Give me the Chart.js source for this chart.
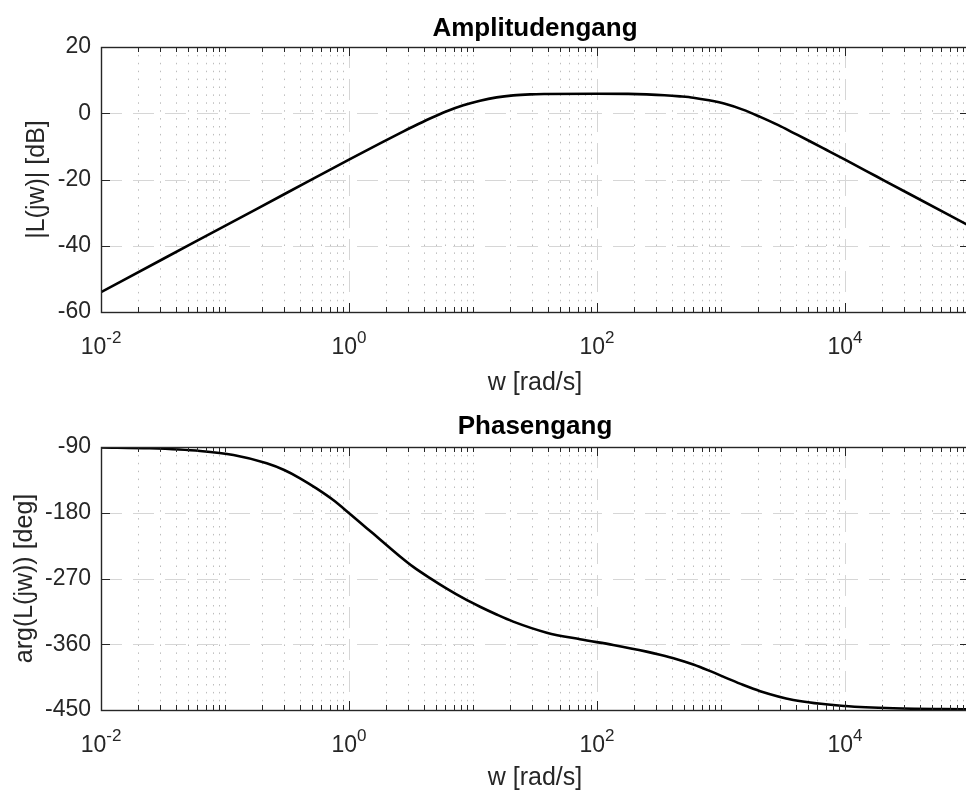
<!DOCTYPE html>
<html><head><meta charset="utf-8">
<script src="https://cdn.jsdelivr.net/npm/chart.js@4.4.1/dist/chart.umd.min.js"></script>
<style>
html,body{margin:0;padding:0;background:#fff;overflow:hidden;width:966px;height:796px;position:relative;}
canvas{position:absolute;left:0;}
#c1{top:0}
#c2{top:400px}
</style></head><body>
<canvas id="c1" width="972" height="400"></canvas>
<canvas id="c2" width="972" height="396"></canvas>
<script>
// ---- data ----
const magFreq = [0.01, 0.0316, 0.1, 0.316, 1, 1.78, 2.58, 3.3, 4.5, 6.14, 8.36, 11.4, 15.5, 21.1, 28.9, 39.3, 100, 178, 251, 350, 467, 598, 800, 1110, 1500, 2070, 2900, 3830, 5300, 7110, 10100, 18000, 33400, 100000];
const magDb   = [-54, -44, -34, -24, -14, -9.1, -6.0, -4.0, -1.6, 0.6, 2.4, 3.8, 4.8, 5.4, 5.7, 5.8, 5.9, 5.85, 5.7, 5.45, 5.1, 4.7, 3.9, 2.7, 1.1, -1.1, -3.6, -5.9, -8.6, -11.1, -14.1, -19.1, -24.45, -33.95];
const phaseFreq = [0.01, 0.0248, 0.063, 0.117, 0.217, 0.3, 0.403, 0.55, 0.746, 1.02, 1.39, 1.78, 2.58, 3.3, 4.5, 6.14, 8.36, 11.4, 15.5, 21.1, 39.3, 72.9, 135, 251, 322, 440, 598, 800, 1110, 1500, 2070, 3830, 10100, 24500, 100000];
const phaseDeg  = [-90.5, -91.8, -95.5, -101, -112.3, -121.5, -132.8, -147.0, -162.6, -181.7, -201.1, -216.5, -239.8, -254.1, -269.5, -283.9, -297.0, -308.7, -319.3, -329.0, -344.1, -353.2, -361.0, -370.1, -374.4, -380.5, -387.8, -396.1, -406.3, -415.5, -424.2, -436.2, -444.6, -447.7, -448.9];
const xTickValues = [1e-2, 1e0, 1e2, 1e4];
const xTickBases = ['10', '10', '10', '10'];
const xTickExponents = ['-2', '0', '2', '4'];
const magTicks = [20, 0, -20, -40, -60];
const phaseTicks = [-90, -180, -270, -360, -450];
const titles = ['Amplitudengang', 'Phasengang'];
const yLabels = ['|L(jw)| [dB]', 'arg(L(jw)) [deg]'];
const xLabel = 'w [rad/s]';

const FONT = "'Liberation Sans', Arial, Helvetica, sans-serif";
const AXIS_COLOR = '#262626';

const majorDecades = xTickValues.map(v => Math.round(Math.log10(v)));

const bodeFrame = {
  id: 'bodeFrame',
  beforeDatasetsDraw(chart) {
    const {ctx, chartArea: a, scales: {x, y}} = chart;
    ctx.save();
    ctx.beginPath();
    ctx.rect(a.left, a.top, a.right - a.left, a.bottom - a.top);
    ctx.clip();
    ctx.lineWidth = 1;
    // minor vertical dotted grid
    ctx.strokeStyle = '#bdbdbd';
    ctx.setLineDash([1.5, 6.4]);
    const lo = Math.floor(Math.log10(x.min)), hi = Math.ceil(Math.log10(x.max));
    for (let d = lo; d <= hi; d++) {
      for (let k = 1; k <= 9; k++) {
        const v = k * Math.pow(10, d);
        if (v <= x.min * 1.0001 || v >= x.max * 0.9999) continue;
        if (k === 1 && majorDecades.includes(d)) continue;
        const px = Math.round(x.getPixelForValue(v)) + 0.5;
        ctx.beginPath(); ctx.moveTo(px, a.top); ctx.lineTo(px, a.bottom); ctx.stroke();
      }
    }
    // major dashed grid
    ctx.strokeStyle = '#d6d6d6';
    ctx.setLineDash([21, 11]);
    xTickValues.forEach(v => {
      if (v <= x.min * 1.0001 || v >= x.max * 0.9999) return;
      const px = Math.round(x.getPixelForValue(v)) + 0.5;
      ctx.beginPath(); ctx.moveTo(px, a.top); ctx.lineTo(px, a.bottom); ctx.stroke();
    });
    y.ticks.forEach(t => {
      if (t.value <= y.min || t.value >= y.max) return;
      const py = Math.round(y.getPixelForValue(t.value)) + 0.5;
      ctx.beginPath(); ctx.moveTo(a.left, py); ctx.lineTo(a.right, py); ctx.stroke();
    });
    ctx.restore();
  },
  afterDatasetsDraw(chart) {
    const {ctx, chartArea: a, scales: {x, y}} = chart;
    ctx.save();
    ctx.strokeStyle = AXIS_COLOR;
    ctx.lineWidth = 1;
    ctx.setLineDash([]);
    const lo = Math.floor(Math.log10(x.min)), hi = Math.ceil(Math.log10(x.max));
    for (let d = lo; d <= hi; d++) {
      for (let k = 1; k <= 9; k++) {
        const v = k * Math.pow(10, d);
        if (v < x.min * 0.9999 || v > x.max * 1.0001) continue;
        const major = (k === 1 && majorDecades.includes(d));
        const len = major ? 9 : 5;
        const px = Math.round(x.getPixelForValue(v)) + 0.5;
        ctx.beginPath();
        ctx.moveTo(px, a.bottom); ctx.lineTo(px, a.bottom - len);
        ctx.moveTo(px, a.top); ctx.lineTo(px, a.top + len);
        ctx.stroke();
      }
    }
    y.ticks.forEach(t => {
      const py = Math.round(y.getPixelForValue(t.value)) + 0.5;
      ctx.beginPath();
      ctx.moveTo(a.left, py); ctx.lineTo(a.left + 9, py);
      ctx.moveTo(a.right, py); ctx.lineTo(a.right - 9, py);
      ctx.stroke();
    });
    ctx.lineWidth = 1.4;
    ctx.strokeRect(Math.round(a.left) + 0.5, Math.round(a.top) + 0.5, Math.round(a.right - a.left), Math.round(a.bottom - a.top));
    // x tick labels: base with superscript exponent
    ctx.fillStyle = AXIS_COLOR;
    ctx.textBaseline = 'alphabetic';
    ctx.textAlign = 'left';
    const baseFont = '23px ' + FONT, expFont = '17px ' + FONT;
    xTickValues.forEach((v, i) => {
      const px = x.getPixelForValue(v);
      ctx.font = baseFont;
      const wb = ctx.measureText(xTickBases[i]).width;
      ctx.font = expFont;
      const we = ctx.measureText(xTickExponents[i]).width;
      const left = px - (wb + we) / 2;
      ctx.font = baseFont;
      ctx.fillText(xTickBases[i], left, a.bottom + 42);
      ctx.font = expFont;
      ctx.fillText(xTickExponents[i], left + wb, a.bottom + 31);
    });
    ctx.restore();
  }
};

function makeChart(id, xs, ys, yTicks, cfg) {
  return new Chart(document.getElementById(id), {
    type: 'line',
    data: {
      datasets: [{
        data: xs.map((v, i) => ({x: v, y: ys[i]})),
        borderColor: '#000000',
        borderWidth: 2.6,
        pointRadius: 0,
        fill: false,
        cubicInterpolationMode: 'monotone'
      }]
    },
    options: {
      responsive: false,
      animation: false,
      devicePixelRatio: 1,
      events: [],
      layout: {padding: {left: 0, right: 3, top: 0, bottom: 0}},
      plugins: {
        legend: {display: false},
        tooltip: {enabled: false},
        title: {
          display: true, text: cfg.title, fullSize: false, color: '#000000',
          font: {family: FONT, size: 26, weight: 'bold', lineHeight: 1.2},
          padding: {top: cfg.tpt, bottom: 15.8 - cfg.tpt}
        }
      },
      scales: {
        x: {
          type: 'logarithmic', min: 1e-2, max: 1e5,
          grid: {display: false, drawTicks: false},
          border: {display: false},
          afterBuildTicks: s => { s.ticks = xTickValues.map(v => ({value: v})); },
          afterFit: s => { s.height = cfg.xh; },
          ticks: {display: false, autoSkip: false, maxRotation: 0, minRotation: 0},
          title: {display: true, text: xLabel, color: AXIS_COLOR, font: {family: FONT, size: 25, lineHeight: 1.2}, padding: {top: 0, bottom: cfg.xtpb}}
        },
        y: {
          min: yTicks[yTicks.length - 1], max: yTicks[0],
          grid: {display: false, drawTicks: false},
          border: {display: false},
          afterBuildTicks: s => { s.ticks = yTicks.slice().reverse().map(v => ({value: v})); },
          afterFit: s => { s.width = 101; },
          ticks: {
            autoSkip: false, color: AXIS_COLOR, padding: 10,
            font: {family: FONT, size: 23},
            callback: v => String(v)
          },
          title: {display: true, text: cfg.ylabel, color: AXIS_COLOR, font: {family: FONT, size: 25, lineHeight: 1.2}, padding: {top: cfg.ytpt, bottom: 0}}
        }
      }
    },
    plugins: [bodeFrame]
  });
}

makeChart('c1', magFreq, magDb, magTicks, {title: titles[0], ylabel: yLabels[0], xh: 88, xtpb: 2, ytpt: 22, tpt: 13});
makeChart('c2', phaseFreq, phaseDeg, phaseTicks, {title: titles[1], ylabel: yLabels[1], xh: 86, xtpb: 3, ytpt: 10, tpt: 11});
</script>
</body></html>
